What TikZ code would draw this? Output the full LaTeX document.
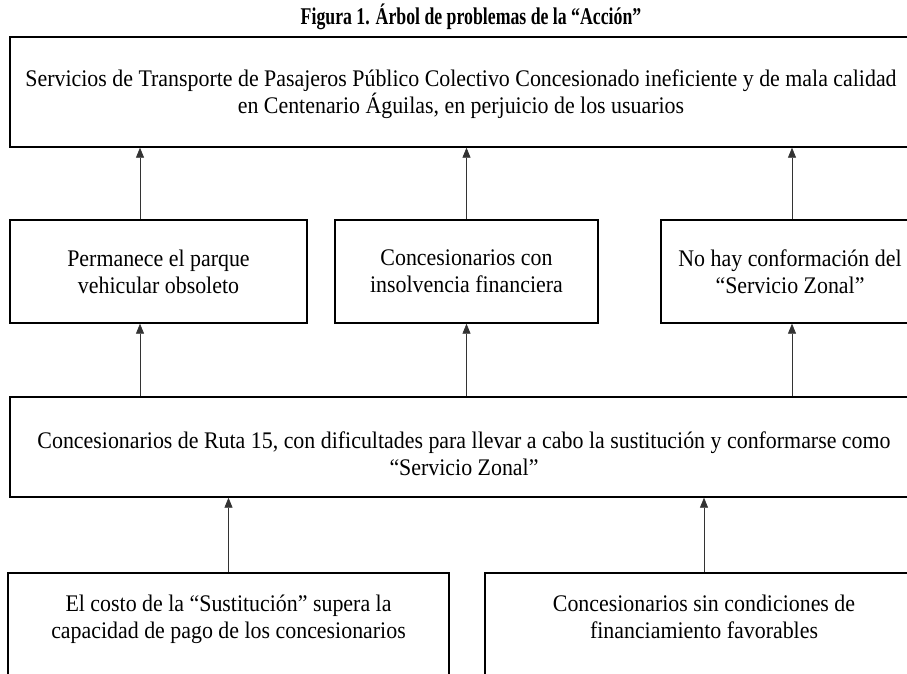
\documentclass[tikz,border=0pt]{standalone}
\usepackage{fontspec}
\setmainfont[FakeStretch=0.92]{Liberation Serif}
\newfontfamily\titlefont[FakeStretch=0.74]{Liberation Serif}
\usetikzlibrary{positioning, arrows.meta}
\tikzstyle{problem} = [rectangle, draw=black, line width=1.4pt, align=center, inner sep=0pt, font=\fontsize{23.8}{27}\selectfont]
\tikzstyle{link} = [-{Triangle[length=10pt,width=8pt]}, line width=0.7pt, draw=black!80]

\begin{document}
\begin{tikzpicture}[x=1pt, y=1pt]
        \clip (0,0) rectangle (907,673);
        \node[font=\titlefont\bfseries\fontsize{24}{26}\selectfont] (title) at (471,656) {Figura 1. Árbol de problemas de la “Acción”};

        % effect
        \node[problem, minimum width=902pt, minimum height=110pt] (effect) at (461,581)
            {\rule{0pt}{22pt}Servicios de Transporte de Pasajeros Público Colectivo Concesionado ineficiente y de mala calidad\\en Centenario Águilas, en perjuicio de los usuarios};

        % consequences
        \node[problem, minimum width=297pt, minimum height=103pt] (parque) at (158.5,401.5) {Permanece el parque\\vehicular obsoleto};
        \node[problem, minimum width=263pt, minimum height=103pt] (insolvencia) at (466.5,401.5) {Concesionarios con\\insolvencia financiera};
        \node[problem, minimum width=258pt, minimum height=103pt] (zonal) at (790,401.5) {No hay conformación del\\“Servicio Zonal”};

        % central problem
        \node[problem, minimum width=908pt, minimum height=100pt] (ruta) at (464,226)
            {\rule{0pt}{30pt}Concesionarios de Ruta 15, con dificultades para llevar a cabo la sustitución y conformarse como\\“Servicio Zonal”};

        % causes
        \node[problem, minimum width=441pt, minimum height=104pt] (costo) at (228.5,48)
            {El costo de la “Sustitución” supera la\\capacidad de pago de los concesionarios\rule[-16pt]{0pt}{16pt}};
        \node[problem, minimum width=438pt, minimum height=104pt] (financiamiento) at (704,48)
            {Concesionarios sin condiciones de\\financiamiento favorables\rule[-16pt]{0pt}{16pt}};

        \draw[link] ([xshift=-18.5pt]parque.north) -- ([xshift=-18.5pt]parque.north |- effect.south);
        \draw[link] (insolvencia) -- (insolvencia |- effect.south);
        \draw[link] ([xshift=2pt]zonal.north) -- ([xshift=2pt]zonal.north |- effect.south);
        \draw[link] ([xshift=-18.5pt]parque.north |- ruta.north) -- ([xshift=-18.5pt]parque.south);
        \draw[link] (insolvencia |- ruta.north) -- (insolvencia.south);
        \draw[link] ([xshift=2pt]zonal.south |- ruta.north) -- ([xshift=2pt]zonal.south);
        \draw[link] (costo.north) -- (costo.north |- ruta.south);
        \draw[link] (financiamiento.north) -- (financiamiento.north |- ruta.south);
\end{tikzpicture}
\end{document}
